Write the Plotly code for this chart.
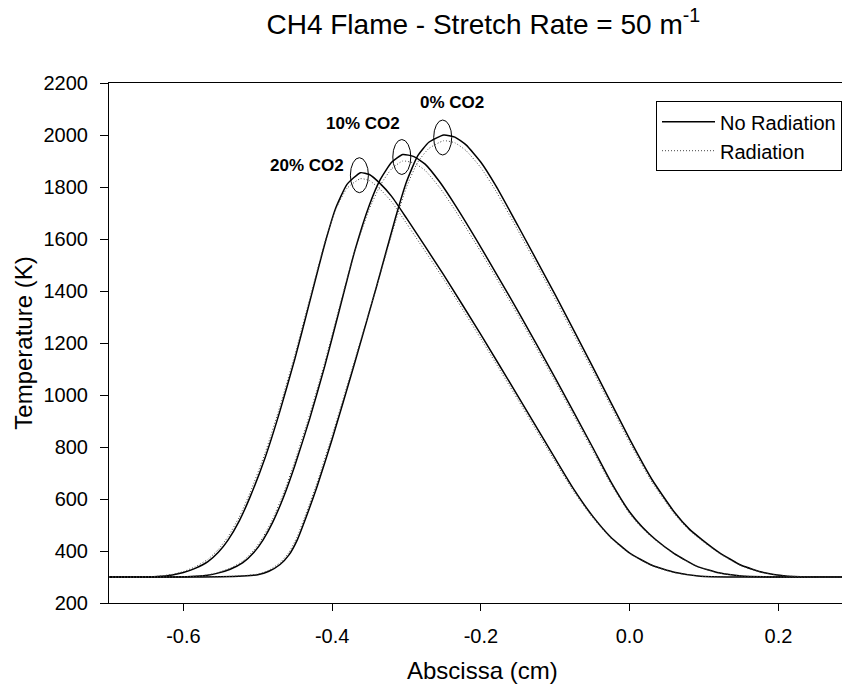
import plotly.graph_objects as go

# ---- data ----
x_0_norad = [-0.70, -0.60, -0.55, -0.52, -0.50, -0.485, -0.47, -0.458, -0.447, -0.435, -0.42, -0.40, -0.37, -0.34, -0.315, -0.30, -0.285, -0.27, -0.25,
             -0.235, -0.22, -0.20, -0.18, -0.15, -0.10, -0.05, 0.00, 0.03, 0.06, 0.08, 0.098, 0.12, 0.15, 0.18, 0.21, 0.25, 0.29]
T_0_norad = [300, 300, 301, 304, 309, 322, 348, 385, 442, 530, 650, 830, 1120, 1420, 1680, 1820, 1920, 1972, 2000,
             1992, 1962, 1895, 1805, 1650, 1385, 1110, 830, 675, 550, 485, 442, 395, 345, 317, 304, 300, 300]
T_0_rad = [300, 300, 301, 305, 311, 326, 355, 395, 455, 545, 665, 845, 1130, 1420, 1665, 1800, 1895, 1948, 1978,
           1970, 1940, 1874, 1785, 1632, 1368, 1095, 817, 665, 543, 480, 438, 392, 343, 316, 304, 300, 300]

x_10_norad = [-0.70, -0.62, -0.59, -0.57, -0.555, -0.537, -0.52, -0.505, -0.493, -0.48, -0.465, -0.45, -0.43, -0.41, -0.39, -0.37, -0.35, -0.335, -0.32, -0.305,
              -0.29, -0.275, -0.255, -0.235, -0.20, -0.15, -0.10, -0.05, -0.025, 0.00, 0.017, 0.034, 0.06, 0.09, 0.12, 0.15, 0.20, 0.29]
T_10_norad = [300, 300, 302, 306, 314, 330, 355, 395, 442, 510, 610, 730, 910, 1110, 1330, 1550, 1730, 1830, 1895, 1925,
              1917, 1888, 1818, 1732, 1568, 1322, 1065, 800, 665, 550, 492, 446, 390, 342, 316, 304, 300, 300]
T_10_rad = [300, 300, 302, 307, 316, 334, 361, 404, 453, 523, 625, 747, 927, 1125, 1340, 1550, 1715, 1808, 1870, 1900,
            1892, 1864, 1796, 1712, 1550, 1306, 1051, 788, 656, 543, 487, 443, 388, 341, 316, 304, 300, 300]

x_20_norad = [-0.70, -0.66, -0.635, -0.615, -0.60, -0.585, -0.567, -0.553, -0.54, -0.525, -0.51, -0.49, -0.47, -0.45, -0.43, -0.41, -0.395, -0.38, -0.362,
              -0.35, -0.335, -0.32, -0.30, -0.25, -0.20, -0.15, -0.10, -0.075, -0.05, -0.026, 0.00, 0.03, 0.06, 0.095, 0.14, 0.29]
T_20_norad = [300, 300, 302, 308, 317, 332, 359, 395, 442, 515, 610, 760, 940, 1140, 1360, 1580, 1720, 1810, 1855,
              1848, 1812, 1764, 1680, 1462, 1232, 995, 755, 637, 535, 455, 392, 345, 318, 303, 300, 300]
T_20_rad = [300, 300, 303, 310, 321, 338, 368, 406, 455, 530, 627, 778, 958, 1156, 1372, 1585, 1715, 1795, 1832,
            1825, 1790, 1743, 1660, 1445, 1216, 981, 743, 628, 529, 451, 390, 344, 317, 303, 300, 300]

peak_x = [-0.25, -0.305, -0.362]
peak_T = [2000, 1925, 1855]
peak_labels = ["0% CO2", "10% CO2", "20% CO2"]

x_ticks = [-0.6, -0.4, -0.2, 0.0, 0.2]
x_ticktext = ["-0.6", "-0.4", "-0.2", "0.0", "0.2"]
y_ticks = [200, 400, 600, 800, 1000, 1200, 1400, 1600, 1800, 2000, 2200]

FONT = "Arial, Liberation Sans, Helvetica, sans-serif"

fig = go.Figure()

series = [
    (x_0_norad, T_0_norad, T_0_rad),
    (x_10_norad, T_10_norad, T_10_rad),
    (x_20_norad, T_20_norad, T_20_rad),
]
for i, (xs, tn, tr) in enumerate(series):
    fig.add_trace(go.Scatter(x=xs, y=tn, mode="lines",
                             line=dict(color="black", width=1.5, shape="spline", smoothing=0.5),
                             name="No Radiation", legendgroup="norad", showlegend=(i == 0)))
for i, (xs, tn, tr) in enumerate(series):
    fig.add_trace(go.Scatter(x=xs, y=tr, mode="lines",
                             line=dict(color="#444444", width=1, dash="1px,2px", shape="spline", smoothing=0.5),
                             name="Radiation", legendgroup="rad", showlegend=(i == 0)))

# ellipses around peaks (anchored at peak data points, pixel sized)
for px_, pt_ in zip(peak_x, peak_T):
    fig.add_shape(type="circle", xref="x", yref="y", xsizemode="pixel", ysizemode="pixel",
                  xanchor=px_, yanchor=pt_, x0=-10, x1=8, y0=-20, y1=15,
                  line=dict(color="black", width=1))

shifts = [(8, 33), (-40, 31), (-53, 7)]
for px_, pt_, lab, (dx, dy) in zip(peak_x, peak_T, peak_labels, shifts):
    fig.add_annotation(x=px_, y=pt_, xref="x", yref="y", text="<b>" + lab + "</b>", showarrow=False,
                       xshift=dx, yshift=dy, font=dict(family=FONT, size=17, color="black"))

# x-axis title as annotation for exact placement
fig.add_annotation(x=(482 - 109) / 733, y=0, xref="paper", yref="paper", text="Abscissa (cm)",
                   showarrow=False, xanchor="center", yanchor="middle", yshift=-67,
                   font=dict(family=FONT, size=24, color="black"))

fig.update_layout(
    width=842, height=686,
    margin=dict(l=109, r=0, t=83, b=83),
    paper_bgcolor="white", plot_bgcolor="white",
    font=dict(family=FONT, color="black"),
    title=dict(text="CH4 Flame - Stretch Rate = 50 m<sup>-1</sup>", x=0.574, xanchor="center",
               y=1 - 24 / 686, yanchor="middle", font=dict(family=FONT, size=28, color="black")),
    showlegend=True,
    legend=dict(x=1.0, xref="paper", xanchor="right", y=0.965, yanchor="top", bgcolor="white",
                bordercolor="black", borderwidth=1, font=dict(family=FONT, size=20, color="black"),
                itemwidth=53, tracegroupgap=0),
)
fig.update_xaxes(range=[-0.7, 0.2855], tickvals=x_ticks, ticktext=x_ticktext, ticks="outside", ticklen=7,
                 tickcolor="black", showline=True, linecolor="black", linewidth=1, mirror=True,
                 showgrid=False, zeroline=False, tickfont=dict(family=FONT, size=20), ticklabelstandoff=8)
fig.update_yaxes(range=[200, 2200], tickvals=y_ticks, ticks="outside", ticklen=8,
                 tickcolor="black", showline=True, linecolor="black", linewidth=1, mirror=False,
                 showgrid=False, zeroline=False, tickfont=dict(family=FONT, size=20), ticklabelstandoff=8,
                 title=dict(text="Temperature (K)", font=dict(family=FONT, size=24), standoff=4))

fig.write_html("out.html", config={"displayModeBar": False},
               post_script="document.body.style.margin='0';document.body.style.overflow='hidden';")
